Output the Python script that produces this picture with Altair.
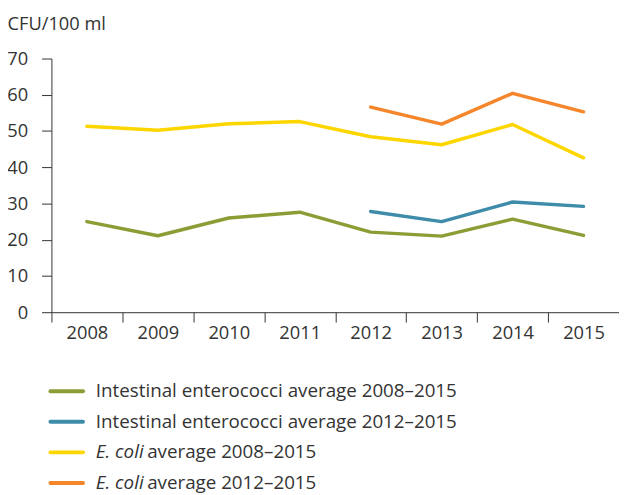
import altair as alt
import pandas as pd

years = ["2008", "2009", "2010", "2011", "2012", "2013", "2014", "2015"]
years_late = ["2012", "2013", "2014", "2015"]

ent_0815 = [25.0, 21.1, 26.0, 27.6, 22.1, 21.0, 25.7, 21.2]
ent_1215 = [27.8, 25.0, 30.4, 29.2]
ecoli_0815 = [51.3, 50.2, 52.0, 52.6, 48.4, 46.2, 51.8, 42.6]
ecoli_1215 = [56.6, 51.9, 60.4, 55.3]

series_names = [
    "Intestinal enterococci average 2008–2015",
    "Intestinal enterococci average 2012–2015",
    "E. coli average 2008–2015",
    "E. coli average 2012–2015",
]
italic_parts = ["", "", "E. coli", "E. coli"]
rest_parts = [
    "Intestinal enterococci average 2008–2015",
    "Intestinal enterococci average 2012–2015",
    "average 2008–2015",
    "average 2012–2015",
]
colors = ["#8a9e35", "#3e8ca9", "#fdd600", "#f5862b"]

rows = []
for s, xs, vs in [
    (series_names[0], years, ent_0815),
    (series_names[1], years_late, ent_1215),
    (series_names[2], years, ecoli_0815),
    (series_names[3], years_late, ecoli_1215),
]:
    for x, v in zip(xs, vs):
        rows.append({"series": s, "year": x, "value": v})
df = pd.DataFrame(rows)

leg = pd.DataFrame({
    "series": series_names,
    "italic": italic_parts,
    "rest": rest_parts,
    "order": [1, 2, 3, 4],
})

FONT = "Open Sans"
TXT = "#333333"
AX_FS = 18.5
LEG_FS = 19

color = alt.Color("series:N", scale=alt.Scale(domain=series_names, range=colors), legend=None)

lines = alt.Chart(df).mark_line(strokeWidth=3.5, strokeCap="round", strokeJoin="round").encode(
    x=alt.X(
        "year:O",
        bandPosition=0.5,
        scale=alt.Scale(type="band", domain=years, paddingInner=0, paddingOuter=0),
        axis=alt.Axis(
            title=None, labelAngle=0, tickBand="extent", tickSize=10,
            labelFont=FONT, labelFontSize=AX_FS, labelColor=TXT, labelPadding=2,
            domainColor=TXT, tickColor=TXT, grid=False,
        ),
    ),
    y=alt.Y(
        "value:Q",
        scale=alt.Scale(domain=[0, 70], nice=False),
        axis=alt.Axis(
            values=[0, 10, 20, 30, 40, 50, 60, 70], tickSize=10, grid=False,
            labelFont=FONT, labelFontSize=AX_FS, labelColor=TXT, labelPadding=14,
            domainColor=TXT, tickColor=TXT,
            title="CFU/100 ml", titleAngle=0, titleAlign="left", titleBaseline="alphabetic",
            titleX=-45, titleY=-29, titleFont=FONT, titleFontSize=AX_FS,
            titleFontWeight="normal", titleColor=TXT,
        ),
    ),
    color=color,
    detail="series:N",
)

ly = alt.Y("order:Q", scale=alt.Scale(domain=[1, 4], range=[337, 430]), axis=None)

leg_base = alt.Chart(leg)
leg_rules = leg_base.mark_rule(strokeWidth=4, strokeCap="round").encode(
    x=alt.value(-1), x2=alt.value(32), y=ly, color=color
)
leg_regular = leg_base.transform_filter("datum.italic == ''").mark_text(
    align="left", baseline="middle", font=FONT, fontSize=LEG_FS, color=TXT
).encode(x=alt.value(45), y=ly, text="rest:N")
leg_italic = leg_base.transform_filter("datum.italic != ''").mark_text(
    align="left", baseline="middle", font=FONT, fontSize=LEG_FS, color=TXT, fontStyle="italic"
).encode(x=alt.value(45), y=ly, text="italic:N")
leg_rest = leg_base.transform_filter("datum.italic != ''").mark_text(
    align="left", baseline="middle", font=FONT, fontSize=LEG_FS, color=TXT
).encode(x=alt.value(97), y=ly, text="rest:N")

chart = alt.layer(lines, leg_rules, leg_regular, leg_italic, leg_rest).resolve_scale(
    y="independent"
).properties(
    width=575,
    height=257,
    padding={"left": 44, "top": 48, "right": 0, "bottom": 182},
    autosize=alt.AutoSizeParams(type="none"),
    background="white",
).configure_view(stroke=None)

chart.save("out.html", embed_options={"renderer": "svg", "actions": False})
